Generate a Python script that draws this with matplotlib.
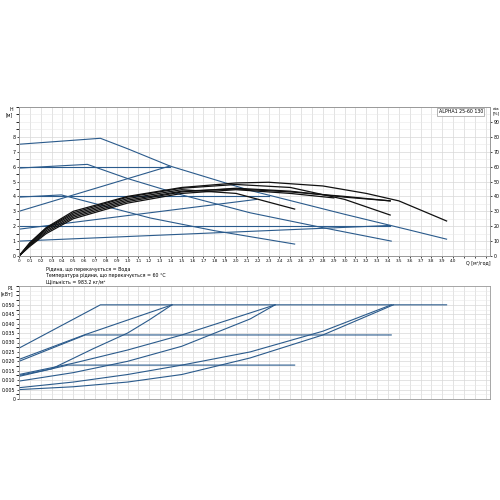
import matplotlib
matplotlib.use("Agg")
import matplotlib.pyplot as plt
import numpy as np

# ---- data: top chart (Q [m3/h], H [m]) ----
blue_lines_H = [
    ([0, 0.75, 1.0, 1.39, 2.13, 3.0, 3.6, 3.94], [7.5, 7.9, 7.2, 6.04, 4.4, 2.8, 1.74, 1.13]),
    ([0, 0.63, 1.0, 1.5, 2.13, 2.8, 3.43], [5.9, 6.15, 5.2, 4.1, 2.9, 1.9, 1.0]),
    ([0, 0.39, 1.0, 1.21, 1.8, 2.54], [3.95, 4.1, 2.95, 2.55, 1.7, 0.8]),
    ([0, 1.39], [6.0, 6.0]),
    ([0, 1.39], [3.0, 6.04]),
    ([0, 2.3], [4.0, 4.0]),
    ([0, 2.19], [1.8, 3.8]),
    ([0, 3.42], [2.0, 2.0]),
    ([0, 3.42], [1.0, 2.05]),
]
black_curves_H = [
    ([0, 0.1, 0.25, 0.5, 1.0, 1.5, 2.0, 2.3, 2.8, 3.2, 3.5, 3.94], [0, 0.9, 1.9, 3.0, 4.0, 4.6, 4.9, 4.95, 4.7, 4.2, 3.7, 2.35]),
    ([0, 0.1, 0.25, 0.5, 1.0, 1.5, 2.0, 2.5, 3.0, 3.42], [0, 0.85, 1.85, 2.9, 3.95, 4.55, 4.8, 4.6, 3.8, 2.75]),
    ([0, 0.1, 0.25, 0.5, 1.0, 1.5, 2.0, 2.54], [0, 0.8, 1.8, 2.8, 3.85, 4.45, 4.2, 3.15]),
    ([0, 0.1, 0.25, 0.5, 1.0, 1.5, 2.0, 2.5, 3.0, 3.42], [0, 0.75, 1.7, 2.7, 3.75, 4.35, 4.5, 4.3, 4.0, 3.7]),
    ([0, 0.1, 0.25, 0.5, 1.0, 1.5, 2.0, 2.5, 3.0, 3.42], [0, 0.7, 1.6, 2.6, 3.65, 4.3, 4.55, 4.35, 3.95, 3.7]),
    ([0, 0.1, 0.25, 0.5, 1.0, 1.5, 2.0, 2.5, 2.9], [0, 0.65, 1.5, 2.5, 3.55, 4.2, 4.45, 4.2, 3.9]),
]
# ---- data: bottom chart (Q [m3/h], P1 [kW]) ----
p1_lines = [
    ([0, 0.75, 3.94], [0.027, 0.050, 0.050]),
    ([0, 0.61, 3.43], [0.020, 0.034, 0.034]),
    ([0, 0.6, 1.41], [0.021, 0.034, 0.050]),
    ([0, 0.3, 0.68, 1.0, 1.2, 1.41], [0.0125, 0.016, 0.0266, 0.035, 0.042, 0.050]),
    ([0, 0.5, 1.0, 1.5, 2.13, 2.36], [0.013, 0.019, 0.026, 0.034, 0.0457, 0.050]),
    ([0, 0.45, 2.54], [0.012, 0.018, 0.018]),
    ([0, 0.5, 1.0, 1.5, 2.13, 2.36], [0.0095, 0.014, 0.020, 0.028, 0.0425, 0.050]),
    ([0, 0.5, 1.0, 1.5, 2.13, 2.8, 3.43], [0.006, 0.009, 0.013, 0.018, 0.025, 0.036, 0.050]),
    ([0, 0.5, 1.0, 1.5, 2.13, 2.8, 3.45], [0.005, 0.0065, 0.009, 0.013, 0.0218, 0.034, 0.050]),
]
x_ticks = [round(0.1 * i, 1) for i in range(41)]
x_labels = ["0"] + [f"{v:.1f}" for v in x_ticks[1:]]
h_ticks = list(range(0, 9))
eta_ticks = list(range(0, 100, 10))
p_ticks = [0.005 * i for i in range(11)]

BLUE = "#2b5b8c"
fs = 3.4
fig = plt.figure(figsize=(5, 5), dpi=100)

ax = fig.add_axes([0.038, 0.488, 0.942, 0.298])
ax.set_xlim(0, 4.34)
ax.set_ylim(0, 10)
for q, h in blue_lines_H:
    ax.plot(q, h, color=BLUE, lw=0.8)
for q, h in black_curves_H:
    ax.plot(q, h, color="#111111", lw=0.9)
grid_x = np.arange(0, 4.35, 0.1)
ax.set_xticks(grid_x)
ax.set_xticklabels(x_labels + [""] * (len(grid_x) - len(x_labels)), fontsize=3.0)
ax.set_yticks(h_ticks)
ax.set_yticklabels([str(v) for v in h_ticks], fontsize=fs)
ax.set_yticks(np.arange(0, 10.01, 0.5), minor=True)
ax.grid(True, which="major", color="#d8d8d8", lw=0.5)
ax.grid(True, which="minor", axis="y", color="#e8e8e8", lw=0.4)
ax.tick_params(length=1.5, pad=1, width=0.5)
for s in ax.spines.values():
    s.set_color("#999999"); s.set_linewidth(0.6)
ax.text(-0.012, 1.0, "H\n[м]", transform=ax.transAxes, fontsize=fs, ha="right", va="top")
ax.text(0.975, -0.03, "Q [м³/год]", transform=ax.transAxes, fontsize=fs, ha="center", va="top")
ax.text(0.985, 0.985, "ALPHA1 25-60 130", transform=ax.transAxes, fontsize=fs, ha="right", va="top",
        bbox=dict(boxstyle="square,pad=0.3", fc="white", ec="#999999", lw=0.5))
ax2 = ax.twinx()
ax2.set_ylim(0, 100)
ax2.set_yticks(eta_ticks)
ax2.set_yticklabels([str(v) for v in eta_ticks], fontsize=fs)
ax2.tick_params(length=1.5, pad=1, width=0.5)
ax2.text(1.006, 1.0, "eta\n[%]", transform=ax.transAxes, fontsize=3.0, ha="left", va="top")
for s in ax2.spines.values():
    s.set_color("#999999"); s.set_linewidth(0.6)

fig.text(0.092, 0.466, "Рідина, що перекачується = Вода", fontsize=fs, va="top")
fig.text(0.092, 0.454, "Температура рідини, що перекачується = 60 °C", fontsize=fs, va="top")
fig.text(0.092, 0.442, "Щільність = 983.2 кг/м³", fontsize=fs, va="top")

bx = fig.add_axes([0.038, 0.202, 0.942, 0.226])
bx.set_xlim(0, 4.34)
bx.set_ylim(0, 0.06)
for q, p in p1_lines:
    bx.plot(q, p, color=BLUE, lw=0.8)
bx.set_xticks(grid_x)
bx.set_xticklabels([])
bx.set_yticks(p_ticks)
bx.set_yticklabels(["0"] + [f"{v:.3f}" for v in p_ticks[1:]], fontsize=fs)
bx.set_yticks(np.arange(0, 0.0601, 0.0025), minor=True)
bx.grid(True, which="major", color="#d8d8d8", lw=0.5)
bx.grid(True, which="minor", axis="y", color="#e8e8e8", lw=0.4)
bx.tick_params(length=0, pad=1)
bx.tick_params(axis="y", length=1.5, width=0.5)
for s in bx.spines.values():
    s.set_color("#999999"); s.set_linewidth(0.6)
bx.text(-0.012, 1.0, "P1\n[кВт]", transform=bx.transAxes, fontsize=fs, ha="right", va="top")

fig.savefig("out.png", dpi=100)
